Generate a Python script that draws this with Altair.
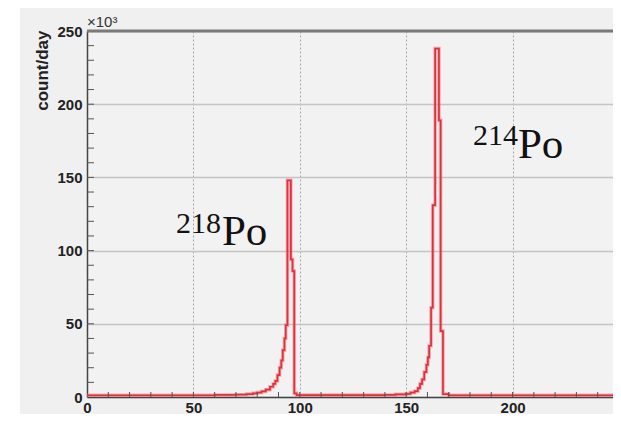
import altair as alt
import pandas as pd

# histogram (bin left edges, counts in thousands per day)
edges = [0, 60, 70, 75, 78, 80, 82, 84, 86, 87.5,
         88.5, 89.5, 90.5, 91.3, 92.0, 92.8, 93.4, 94.2, 95.8, 96.6,
         97.4, 98.5, 140, 145, 150, 152, 154, 155.5, 156.5, 157.5,
         158.5, 159.5, 160.2, 160.8, 161.7, 162.5, 163.6, 165.4, 166.2, 167.3,
         170, 250]
counts = [1.2, 1.4, 1.6, 2.0, 2.5, 3.0, 3.8, 5.0, 7.0, 9.0,
          11, 15, 20, 25, 32, 40, 49, 148, 94, 86,
          2.5, 1.3, 1.4, 1.8, 2.2, 3.0, 4.0, 6.0, 9.0, 12,
          17, 22, 27, 35, 61, 131, 238, 189, 45, 2.0,
          1.2, 1.2]

major_ticks = [0, 50, 100, 150, 200, 250]
x_minor = list(range(10, 250, 10))
y_minor = list(range(10, 250, 10))

ann_sup = ["218", "214"]
ann_sup_x = [41.8, 181.4]
ann_sup_y = [112.0, 172.0]
ann_main = ["Po", "Po"]
ann_main_x = [63.4, 202.5]
ann_main_y = [103.5, 163.5]

W, H = 526, 366
xs = alt.Scale(domain=[0, 247.2], nice=False, zero=False)
ys = alt.Scale(domain=[0, 250], nice=False, zero=False)

hist = pd.DataFrame({"x": edges, "y": counts})
base = alt.Chart(hist)

xaxis = alt.Axis(values=major_ticks, labelFont="Liberation Sans", labelFontWeight="bold",
                 labelFontSize=15, labelColor="#222222", ticks=False, domainColor="#444444",
                 domainWidth=1.5, grid=True, gridDash=[2, 2], gridColor="#a8a8a8",
                 labelPadding=3, labelFlush=False, labelOverlap=False, labelBound=False,
                 title=None)
yaxis = alt.Axis(values=major_ticks, labelFont="Liberation Sans", labelFontWeight="bold",
                 labelFontSize=15, labelColor="#222222", ticks=False, domainColor="#444444",
                 domainWidth=1.5, grid=True, gridColor="#c4c4c4", gridWidth=1.4,
                 labelPadding=5, labelOverlap=False, title="count/day",
                 titleFont="Liberation Sans", titleFontWeight="bold", titleFontSize=17,
                 titleColor="#222222", titleAngle=270, titleAlign="right",
                 titleBaseline="middle", titleX=-45, titleY=-1)

thick = base.mark_line(interpolate="step-after", color="#f07078", strokeWidth=3.5,
                       opacity=0.55).encode(
    x=alt.X("x:Q", scale=xs, axis=xaxis),
    y=alt.Y("y:Q", scale=ys, axis=yaxis))
thin = base.mark_line(interpolate="step-after", color="#e0303c", strokeWidth=1.7).encode(
    x=alt.X("x:Q", scale=xs), y=alt.Y("y:Q", scale=ys))

xt = alt.Chart(pd.DataFrame({"t": x_minor})).mark_rule(color="#555555", strokeWidth=1).encode(
    x=alt.X("t:Q", scale=xs), y=alt.value(H), y2=alt.value(H - 5))
yt = alt.Chart(pd.DataFrame({"t": y_minor})).mark_rule(color="#555555", strokeWidth=1).encode(
    y=alt.Y("t:Q", scale=ys), x=alt.value(0), x2=alt.value(7))

top = alt.Chart(pd.DataFrame({"t": [250]})).mark_rule(color="#7a7a7a", strokeWidth=3).encode(
    y=alt.Y("t:Q", scale=ys))

sup = alt.Chart(pd.DataFrame({"x": ann_sup_x, "y": ann_sup_y, "t": ann_sup})).mark_text(
    font="Liberation Serif", fontSize=30, align="left", baseline="alphabetic", color="#111111").encode(
    x=alt.X("x:Q", scale=xs), y=alt.Y("y:Q", scale=ys), text="t:N")
main = alt.Chart(pd.DataFrame({"x": ann_main_x, "y": ann_main_y, "t": ann_main})).mark_text(
    font="Liberation Serif", fontSize=43, align="left", baseline="alphabetic", color="#111111").encode(
    x=alt.X("x:Q", scale=xs), y=alt.Y("y:Q", scale=ys), text="t:N")

expo = alt.Chart(pd.DataFrame({"t": ["×10³"]})).mark_text(
    font="Liberation Sans", fontSize=15, align="left", baseline="bottom", color="#333333").encode(
    x=alt.value(0), y=alt.value(-1), text="t:N")

strip = alt.Chart(pd.DataFrame({"a": [0]})).mark_rect(color="white").encode(
    x=alt.value(-79), x2=alt.value(-67), y=alt.value(-23), y2=alt.value(H + 17))

chart = alt.layer(strip, top, thick, thin, xt, yt, sup, main, expo).properties(
    width=W, height=H, background="#f0f0f0",
    padding={"left": 79, "top": 23, "right": 0, "bottom": 17},
    autosize=alt.AutoSizeParams(type="none")
).configure_view(fill="#f2f2f2", strokeWidth=0, clip=False).resolve_scale(x="shared", y="shared")

chart.save("out.html", embed_options={"renderer": "svg", "actions": False})
